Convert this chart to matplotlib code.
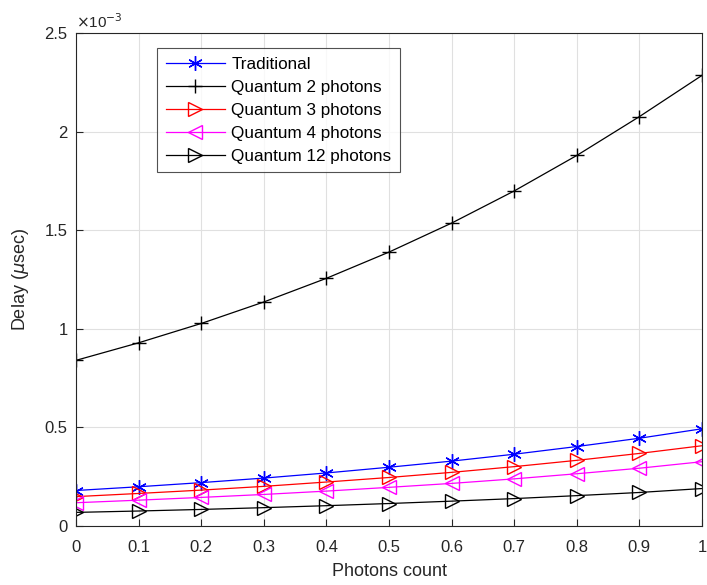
import matplotlib
matplotlib.use("Agg")
import matplotlib.pyplot as plt

plt.rcParams['font.family'] = ['Liberation Sans', 'DejaVu Sans']

x = [0.0, 0.1, 0.2, 0.3, 0.4, 0.5, 0.6, 0.7, 0.8, 0.9, 1.0]
traditional = [0.180, 0.199, 0.220, 0.243, 0.269, 0.298, 0.329, 0.364, 0.403, 0.445, 0.493]
quantum2 = [0.840, 0.929, 1.027, 1.136, 1.256, 1.389, 1.536, 1.699, 1.879, 2.076, 2.285]
quantum3 = [0.149, 0.165, 0.182, 0.201, 0.223, 0.246, 0.272, 0.301, 0.333, 0.368, 0.407]
quantum4 = [0.118, 0.131, 0.145, 0.160, 0.177, 0.196, 0.216, 0.239, 0.265, 0.293, 0.326]
quantum12 = [0.069, 0.076, 0.084, 0.093, 0.103, 0.114, 0.126, 0.139, 0.154, 0.170, 0.190]
scale = 1e-3

fig = plt.figure(figsize=(7.07, 5.85), dpi=100)
ax = fig.add_axes([76/707, 59/585, 626/707, 493/585])

ms = 10.5
lw = 0.9
ax.plot(x, [v*scale for v in traditional], color='#0000ff', marker=(6, 2, 0), ms=ms, mew=1.0, lw=lw, label='Traditional')
ax.plot(x, [v*scale for v in quantum2], color='black', marker='+', ms=ms, mew=1.0, lw=lw, label='Quantum 2 photons')
ax.plot(x, [v*scale for v in quantum3], color='#ff0000', marker='>', ms=ms, mew=1.0, lw=lw, mfc='none', label='Quantum 3 photons')
ax.plot(x, [v*scale for v in quantum4], color='#ff00ff', marker='<', ms=ms, mew=1.0, lw=lw, mfc='none', label='Quantum 4 photons')
ax.plot(x, [v*scale for v in quantum12], color='black', marker='>', ms=ms, mew=1.0, lw=lw, mfc='none', label='Quantum 12 photons')

ax.set_xlim(0, 1)
ax.set_ylim(0, 2.5e-3)
ax.set_xticks(x)
ax.set_xticklabels(['0', '0.1', '0.2', '0.3', '0.4', '0.5', '0.6', '0.7', '0.8', '0.9', '1'])
ax.set_yticks([0, 0.5e-3, 1e-3, 1.5e-3, 2e-3, 2.5e-3])
ax.set_yticklabels(['0', '0.5', '1', '1.5', '2', '2.5'])
ax.grid(True, color='#e0e0e0', lw=0.8)
ax.set_axisbelow(True)
ax.tick_params(axis='both', direction='in', labelsize=12, colors='#262626', length=5, top=False, right=False)
ax.tick_params(axis='x', pad=10)
ax.tick_params(axis='y', pad=6)
for s in ax.spines.values():
    s.set_color('#262626')
    s.set_linewidth(0.8)

ax.set_xlabel('Photons count', fontsize=13, color='#262626', labelpad=6)
ax.set_ylabel('Delay ($\\mu$sec)', fontsize=13, color='#262626', labelpad=10)
ax.text(0.0, 1.004, '$\\times$10$^{-3}$', transform=ax.transAxes, fontsize=11, color='#262626', ha='left', va='bottom')

leg = ax.legend(loc='upper left', bbox_to_anchor=(81/626, 1 - 15/493), fontsize=12.3,
                frameon=True, fancybox=False, edgecolor='#262626', borderpad=0.5,
                labelspacing=0.47, handlelength=3.5, handletextpad=0.35, borderaxespad=0)
leg.get_frame().set_linewidth(0.8)

fig.savefig('out.png', dpi=100)
